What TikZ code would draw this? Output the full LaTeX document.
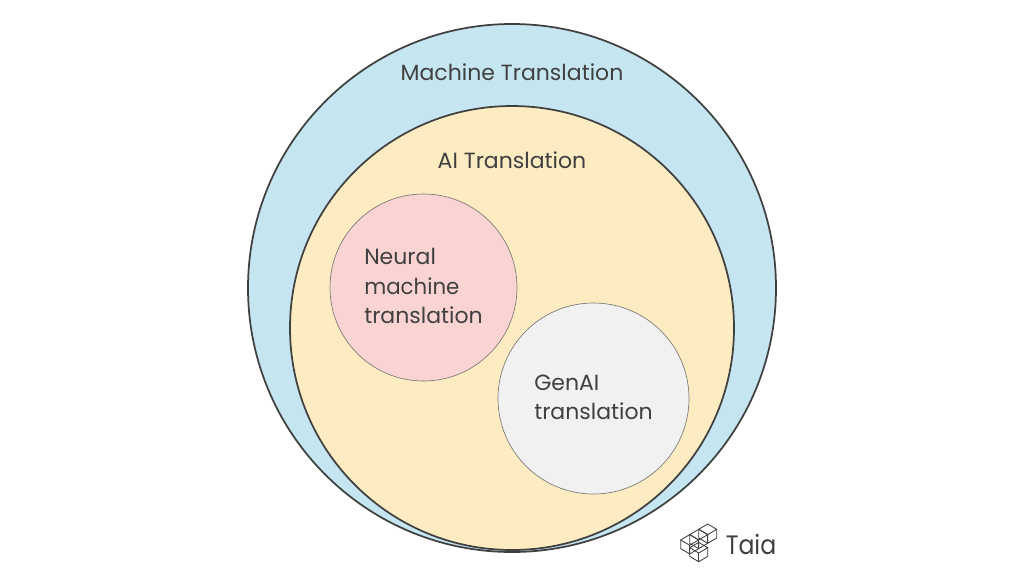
\documentclass[tikz,border=0pt]{standalone}
\usepackage{fontspec}
\setmainfont{Poppins}
\definecolor{inkc}{HTML}{404040}
\definecolor{bluec}{HTML}{C5E6F1}
\definecolor{yellowc}{HTML}{FDEBC1}
\definecolor{pinkc}{HTML}{FAD4D3}
\definecolor{grayc}{HTML}{F1F1F1}
\tikzset{
  x=0.75pt,y=-0.75pt,
  bigc/.style={circle,draw=inkc,line width=1.3pt,inner sep=0pt},
  smallc/.style={circle,draw=inkc!70,line width=0.5pt,inner sep=0pt},
  lab/.style={text=inkc,font=\fontsize{16.5}{22}\selectfont,inner sep=0pt},
  labl/.style={lab,align=left},
  wire/.style={draw=inkc,line width=0.65pt,line join=round}
}
\newcommand{\cubewire}[2]{%
  \draw[wire] (#1,#2-5.3) -- (#1+9,#2) -- (#1,#2+5.3) -- (#1-9,#2) -- cycle;
  \draw[wire] (#1-9,#2) -- (#1-9,#2+8.7) -- (#1,#2+14) -- (#1+9,#2+8.7) -- (#1+9,#2);
  \draw[wire] (#1,#2+5.3) -- (#1,#2+14);
}
\begin{document}
\begin{tikzpicture}
\useasboundingbox (0,0) rectangle (1024,576);
\fill[white] (0,0) rectangle (1024,576);
\node[bigc,fill=bluec,minimum size=396pt] (outer) at (512,288) {};
\node[bigc,fill=yellowc,minimum size=333pt] (inner) at (512,328) {};
\node[smallc,fill=pinkc,minimum size=140.25pt] (neural) at (423.5,287.5) {};
\node[smallc,fill=grayc,minimum size=143.25pt] (genai) at (593.5,398.5) {};
\node[lab] (mt) at (512,72) {Machine Translation};
\node[lab] (ai) at (512,160) {AI Translation};
\node[labl,anchor=west] (nmt) at (364,286) {Neural\\\scalebox{0.97}[1]{machine}\\translation};
\node[labl,anchor=west] (gen) at (534,397) {GenAI\\translation};
\cubewire{707.7}{529.3}
\cubewire{698.7}{534.6}
\cubewire{689.7}{539.9}
\cubewire{698.7}{547.7}
\node[text=inkc,font=\fontsize{20}{22}\selectfont,inner sep=0pt,anchor=west] (taia) at (725.5,544) {\scalebox{0.885}[1]{Taia}};
\end{tikzpicture}
\end{document}
